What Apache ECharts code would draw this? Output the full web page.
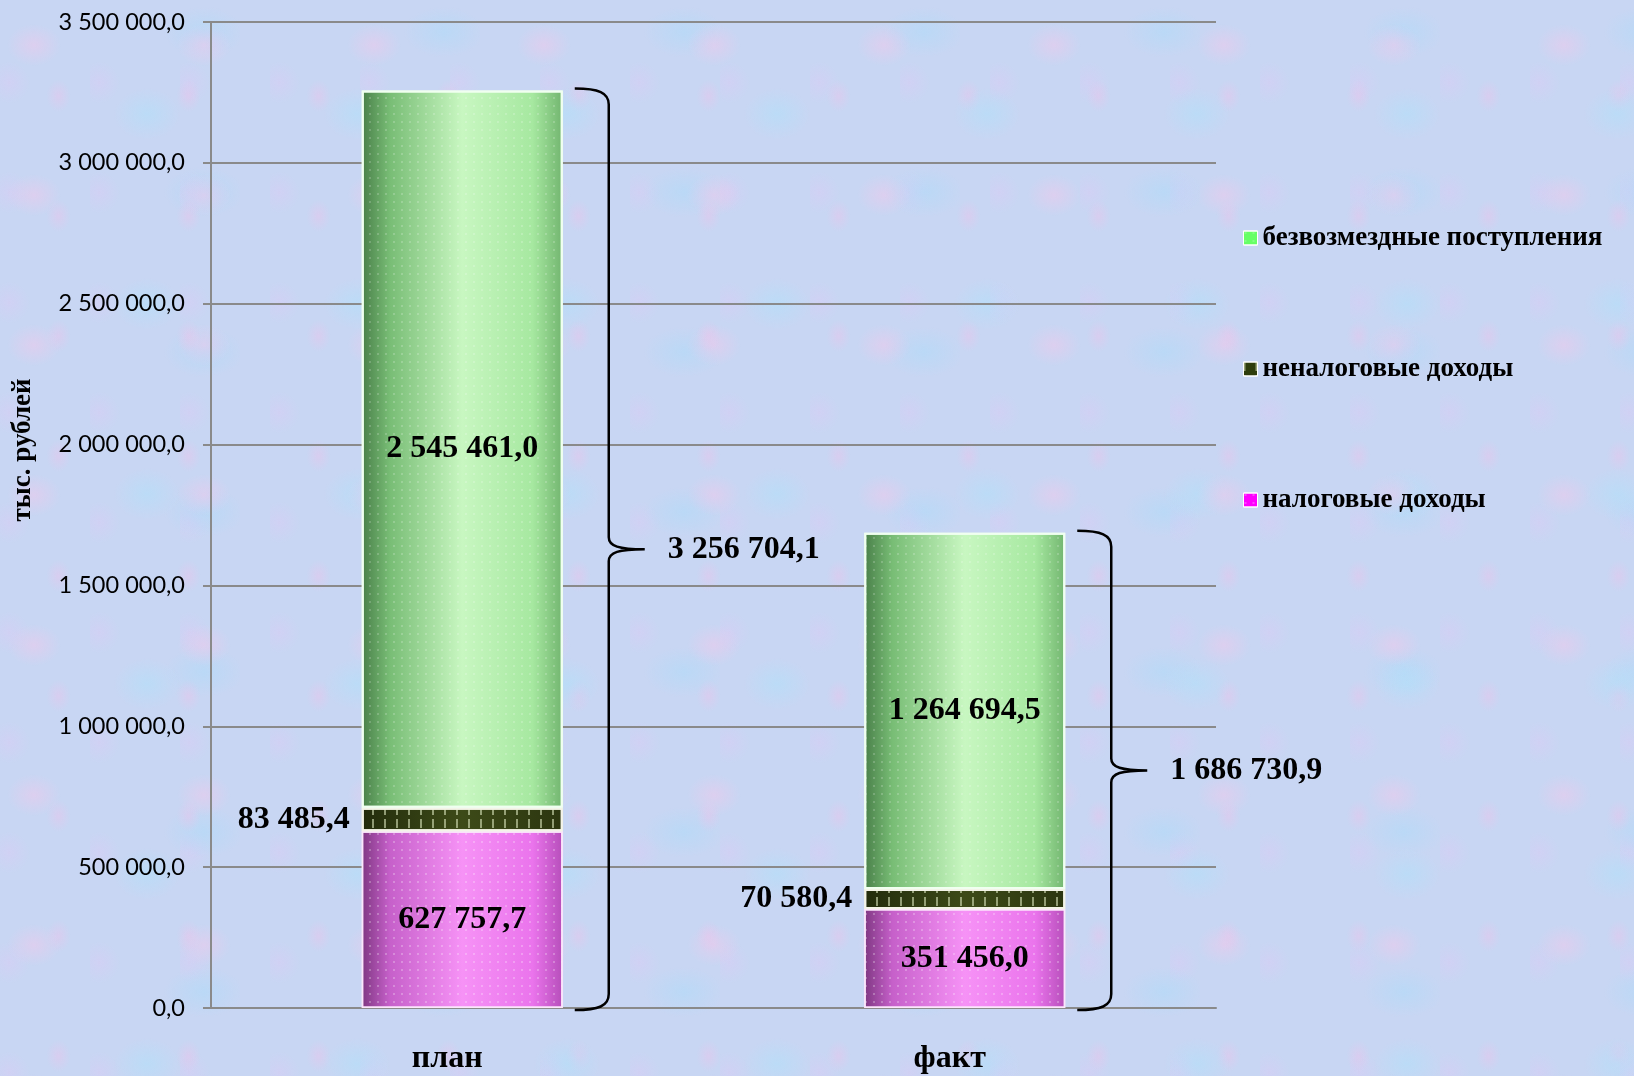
<!DOCTYPE html>
<html>
<head>
<meta charset="utf-8">
<script src="https://cdn.jsdelivr.net/npm/echarts@6/dist/echarts.min.js"></script>
<style>
html,body{margin:0;padding:0;width:1634px;height:1076px;overflow:hidden;}
body{
  background-color:#c8d6f3;
  background-image:
    radial-gradient(ellipse at 20% 30%, rgba(240,200,235,0.5) 0, rgba(240,200,235,0) 14%),
    radial-gradient(ellipse at 70% 60%, rgba(175,225,250,0.5) 0, rgba(175,225,250,0) 16%),
    radial-gradient(ellipse at 45% 80%, rgba(235,195,235,0.45) 0, rgba(235,195,235,0) 12%),
    radial-gradient(ellipse at 85% 20%, rgba(170,220,250,0.45) 0, rgba(170,220,250,0) 14%),
    radial-gradient(ellipse at 10% 75%, rgba(215,205,245,0.55) 0, rgba(215,205,245,0) 18%);
  background-size:170px 150px, 210px 190px, 130px 120px, 240px 160px, 90px 110px;
}
#chart{width:1634px;height:1076px;}
</style>
</head>
<body>
<div id="chart"></div>
<script>
const categories = ['план', 'факт'];
const taxRevenue = [627757.7, 351456.0];
const nonTaxRevenue = [83485.4, 70580.4];
const grants = [2545461.0, 1264694.5];
const seriesNames = ['налоговые доходы', 'неналоговые доходы', 'безвозмездные поступления'];
const axisTitle = 'тыс. рублей';
const yMin = 0, yMax = 3500000, yStep = 500000;

function fmt(v) {
  const s = Number(v).toFixed(1);
  const parts = s.split('.');
  return parts[0].replace(/\B(?=(\d{3})+(?!\d))/g, ' ') + ',' + parts[1];
}

const totals = categories.map((c, i) => +(taxRevenue[i] + nonTaxRevenue[i] + grants[i]).toFixed(1));

const serif = '"Liberation Serif", "Times New Roman", serif';
const labelFont = {fontFamily: serif, fontWeight: 'bold', fontSize: 32, color: '#000'};

const chart = echarts.init(document.getElementById('chart'), null, {renderer: 'canvas'});

function hGrad(stops) {
  return new echarts.graphic.LinearGradient(0, 0, 1, 0, stops.map(c => ({offset: c[0], color: c[1]})));
}

const greenFill = hGrad([[0, '#497f49'], [0.14, '#78bd75'], [0.5, '#c8f7c1'], [0.85, '#a6e8a0'], [1, '#72b56f']]);
const pinkFill = hGrad([[0, '#7f3782'], [0.14, '#c660ca'], [0.5, '#f692f6'], [0.85, '#ea74ec'], [1, '#b64eba']]);
const darkFill = hGrad([[0, '#232c0c'], [0.5, '#3d4a18'], [1, '#2c3610']]);

const option = {
  animation: false,
  backgroundColor: 'transparent',
  grid: {left: 211, right: 418, top: 22, bottom: 68, containLabel: false},
  legend: {
    orient: 'vertical',
    left: 1238,
    top: 218,
    itemWidth: 14,
    itemHeight: 14,
    itemGap: 101,
    icon: 'rect',
    textStyle: {fontFamily: serif, fontWeight: 'bold', fontSize: 27, lineHeight: 30, color: '#000'},
    data: [
      {name: seriesNames[2], itemStyle: {color: '#66ff66', borderColor: '#fff', borderWidth: 1}},
      {name: seriesNames[1], itemStyle: {color: '#2e3d0c', borderColor: '#fff', borderWidth: 1}},
      {name: seriesNames[0], itemStyle: {color: '#ff00ff', borderColor: '#fff', borderWidth: 1}}
    ]
  },
  xAxis: {
    type: 'category',
    data: categories,
    axisLine: {show: true, lineStyle: {color: '#8a8a8a', width: 2}},
    axisTick: {show: false},
    axisLabel: {
      margin: 35,
      fontFamily: serif, fontWeight: 'bold', fontSize: 32, color: '#000',
      padding: [0, 30, 0, 0]
    },
    splitLine: {show: false}
  },
  yAxis: {
    type: 'value',
    min: yMin, max: yMax, interval: yStep,
    axisLine: {show: true, lineStyle: {color: '#8a8a8a', width: 2}},
    axisTick: {show: true, length: 8, lineStyle: {color: '#8a8a8a', width: 2}},
    axisLabel: {
      margin: 26,
      fontFamily: 'Lato, "Open Sans", sans-serif', fontSize: 23.5, color: '#000',
      formatter: v => fmt(v)
    },
    splitLine: {show: true, lineStyle: {color: '#8a8a8a', width: 2}}
  },
  graphic: [{
    type: 'text',
    x: 23, y: 450,
    rotation: Math.PI / 2,
    style: {
      text: axisTitle,
      font: 'bold 27px ' + serif,
      fill: '#000',
      align: 'center',
      verticalAlign: 'middle'
    }
  }],
  series: [
    {
      name: seriesNames[0], type: 'bar', stack: 'total', barWidth: '40%',
      data: taxRevenue,
      itemStyle: {
        color: pinkFill, borderColor: '#fbe6fb', borderWidth: 1.5,
        decal: {symbol: 'circle', symbolSize: 0.5, color: 'rgba(255,255,255,0.35)', dashArrayX: [4, 4], dashArrayY: [4, 4]}
      },
      label: Object.assign({show: true, position: 'inside', formatter: p => fmt(p.value)}, labelFont)
    },
    {
      name: seriesNames[1], type: 'bar', stack: 'total', barWidth: '40%',
      data: nonTaxRevenue,
      itemStyle: {
        color: darkFill, borderColor: '#f4f4e8', borderWidth: 2,
        decal: {symbol: 'rect', symbolSize: 1, color: 'rgba(230,240,200,0.55)', dashArrayX: [1.5, 10], dashArrayY: [9, 4]}
      },
      label: Object.assign({show: true, position: 'left', distance: 12, formatter: p => fmt(p.value)}, labelFont)
    },
    {
      name: seriesNames[2], type: 'bar', stack: 'total', barWidth: '40%',
      data: grants,
      itemStyle: {
        color: greenFill, borderColor: '#f0fff0', borderWidth: 2,
        decal: {symbol: 'circle', symbolSize: 0.5, color: 'rgba(255,255,255,0.25)', dashArrayX: [4, 4], dashArrayY: [4, 4]}
      },
      label: Object.assign({show: true, position: 'inside', formatter: p => fmt(p.value)}, labelFont)
    },
    {
      name: 'totals', type: 'custom',
      silent: true,
      z: 5,
      data: totals.map((t, i) => [i, t]),
      renderItem: function (params, api) {
        const cat = api.value(0);
        const total = api.value(1);
        const p0 = api.coord([cat, 0]);
        const p1 = api.coord([cat, total]);
        const band = api.size([1, 0])[0];
        const xR = p0[0] + band * 0.2;
        const a = xR + 12, v = xR + 46, t = xR + 82;
        const yTop = p1[1] - 2, yBot = p0[1] + 2;
        const mid = (yTop + yBot) / 2;
        const d = [
          'M', a, yTop,
          'C', v - 10, yTop, v, yTop + 4, v, yTop + 16,
          'L', v, mid - 12,
          'C', v, mid - 3, v + 10, mid, t, mid,
          'C', v + 10, mid, v, mid + 3, v, mid + 12,
          'L', v, yBot - 16,
          'C', v, yBot - 4, v - 10, yBot, a, yBot
        ].join(' ');
        return {
          type: 'group',
          children: [
            {type: 'path', shape: {pathData: d}, style: {stroke: '#000', lineWidth: 2.5, fill: null}},
            {type: 'text', x: xR + 105, y: mid,
              style: {text: fmt(total), font: 'bold 32px ' + serif, fill: '#000', align: 'left', verticalAlign: 'middle'}}
          ]
        };
      }
    }
  ]
};

chart.setOption(option);
</script>
</body>
</html>
